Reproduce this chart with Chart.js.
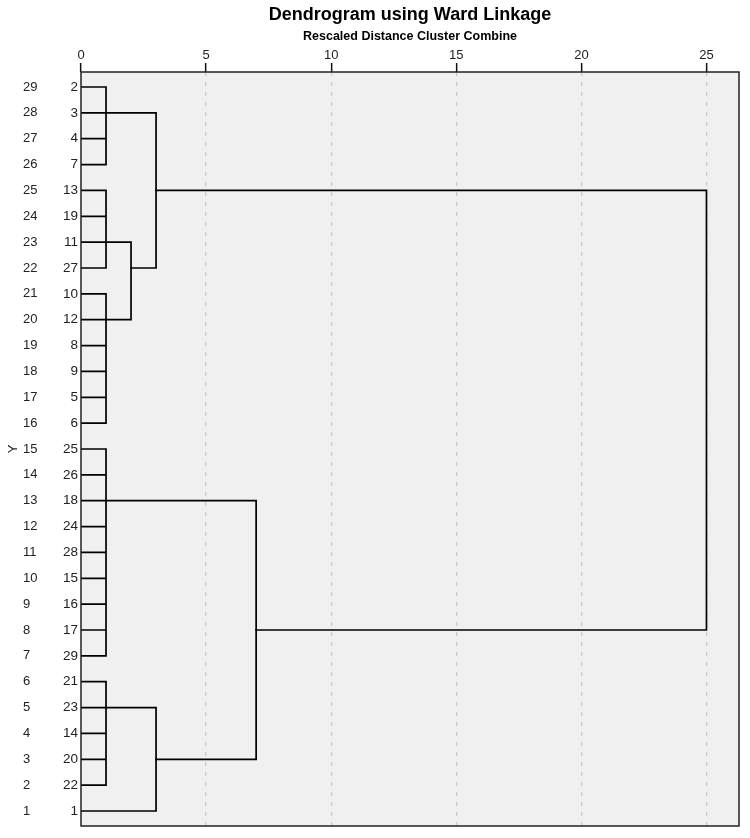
<!DOCTYPE html>
<html>
<head>
<meta charset="utf-8">
<script src="https://cdn.jsdelivr.net/npm/chart.js@4.4.1/dist/chart.umd.min.js"></script>
<style>
html,body{margin:0;padding:0;background:#fff;}
canvas{display:block;}
</style>
</head>
<body>
<canvas id="c" width="750" height="838"></canvas>
<script>
// ---- data ----
const caseLabels = ['2','3','4','7','13','19','11','27','10','12','8','9','5','6','25','26','18','24','28','15','16','17','29','21','23','14','20','22','1'];
const rowNumbers = [29,28,27,26,25,24,23,22,21,20,19,18,17,16,15,14,13,12,11,10,9,8,7,6,5,4,3,2,1];
const distanceTicks = [0,5,10,15,20,25];
// children: numbers are case labels (leaves), 'Mk' refers to merge k
const mergeChildren = [
  [2,3,4,7],
  [13,19,11,27],
  [10,12,8,9,5,6],
  [25,26,18,24,28,15,16,17,29],
  [21,23,14,20,22],
  ['M1','M2'],
  ['M0','M5'],
  ['M4',1],
  ['M3','M7'],
  ['M6','M8']
];
const mergeDistance = [1,1,1,1,1,2,3,3,7,25];
const mergeLinkCase = [3,11,12,18,23,27,13,20,17,null];

// ---- helpers ----
const FONT = "'Liberation Sans', Arial, sans-serif";
function rowOf(c){ return caseLabels.length - caseLabels.indexOf(String(c)); }
function childPos(ch){
  if (typeof ch === 'string' && ch[0] === 'M'){
    const k = parseInt(ch.slice(1),10);
    return {x: mergeDistance[k], y: rowOf(mergeLinkCase[k])};
  }
  return {x: 0, y: rowOf(ch)};
}
const datasets = mergeChildren.map((kids, k) => {
  const d = mergeDistance[k];
  const pts = [];
  const ys = [];
  kids.forEach(ch => {
    const p = childPos(ch);
    ys.push(p.y);
    pts.push({x: p.x, y: p.y}, {x: d, y: p.y}, {x: d, y: null});
  });
  pts.push({x: d, y: Math.max(...ys)}, {x: d, y: Math.min(...ys)});
  return {
    data: pts,
    showLine: true,
    spanGaps: false,
    borderColor: '#000',
    borderWidth: 1.7,
    borderCapStyle: 'square',
    pointRadius: 0,
    pointHoverRadius: 0,
    fill: false,
    tension: 0,
    xAxisID: 'x',
    yAxisID: 'y'
  };
});

const areaPlugin = {
  id: 'area',
  beforeDraw(chart){
    const {ctx, chartArea: a} = chart;
    ctx.save();
    ctx.fillStyle = '#f0f0f0';
    ctx.fillRect(a.left, a.top, a.right - a.left, a.bottom - a.top);
    ctx.restore();
  },
  afterDatasetsDraw(chart){
    const {ctx, chartArea: a} = chart;
    ctx.save();
    ctx.strokeStyle = '#222';
    ctx.lineWidth = 1.5;
    ctx.strokeRect(a.left, a.top, a.right - a.left, a.bottom - a.top);
    ctx.restore();
  }
};

const yRange = {min: 0.42, max: 29.58};
const tickFont = {family: FONT, size: 13};

new Chart(document.getElementById('c'), {
  type: 'scatter',
  data: {datasets},
  plugins: [areaPlugin],
  options: {
    responsive: false,
    animation: false,
    devicePixelRatio: 1,
    layout: {padding: {left: 0, right: 11, top: 0, bottom: 12}},
    plugins: {
      legend: {display: false},
      tooltip: {enabled: false},
      title: {
        display: true,
        text: 'Dendrogram using Ward Linkage',
        fullSize: false,
        color: '#000',
        font: {family: FONT, size: 18, weight: 'bold'},
        padding: {top: 4, bottom: 2}
      }
    },
    scales: {
      x: {
        type: 'linear',
        position: 'top',
        min: 0,
        max: 26.3,
        afterBuildTicks: s => { s.ticks = distanceTicks.map(v => ({value: v})); },
        afterFit: s => { s.height = 44.4; },
        ticks: {font: tickFont, color: '#222', padding: 0, maxRotation: 0, autoSkip: false},
        grid: {
          color: c => (c.tick && c.tick.value === 0) ? 'rgba(0,0,0,0)' : '#cacaca',
          lineWidth: 1.3,
          drawTicks: true,
          tickLength: 9,
          tickColor: '#111',
          tickWidth: 1.5,
          tickBorderDash: []
        },
        border: {display: false, dash: [4, 6]},
        title: {
          display: true,
          text: 'Rescaled Distance Cluster Combine',
          color: '#000',
          font: {family: FONT, size: 12.5, weight: 'bold'},
          padding: {top: 1, bottom: 0}
        }
      },
      y: {
        type: 'linear',
        position: 'left',
        weight: 0,
        min: yRange.min,
        max: yRange.max,
        afterBuildTicks: s => { s.ticks = rowNumbers.map(v => ({value: v})); },
        afterFit: s => { s.width = 33; },
        ticks: {
          font: {family: FONT, size: 13.5}, color: '#222', padding: 3, crossAlign: 'near', autoSkip: false,
          callback: v => caseLabels[caseLabels.length - v]
        },
        grid: {display: false, drawTicks: false, tickLength: 0},
        border: {display: false}
      },
      yRow: {
        type: 'linear',
        position: 'left',
        weight: 1,
        min: yRange.min,
        max: yRange.max,
        afterBuildTicks: s => { s.ticks = rowNumbers.map(v => ({value: v})); },
        afterFit: s => { s.width = 25; },
        ticks: {font: tickFont, color: '#222', padding: 0, crossAlign: 'far', autoSkip: false, callback: v => String(v)},
        grid: {display: false, drawTicks: false, tickLength: 0},
        border: {display: false}
      },
      yTitle: {
        type: 'linear',
        position: 'left',
        weight: 2,
        min: yRange.min,
        max: yRange.max,
        afterFit: s => { s.width = 23; },
        ticks: {display: false},
        grid: {display: false, drawTicks: false, tickLength: 0},
        border: {display: false},
        title: {display: true, text: 'Y', color: '#222', font: {family: FONT, size: 13}, padding: {top: 6, bottom: 0}}
      }
    }
  }
});
</script>
</body>
</html>
